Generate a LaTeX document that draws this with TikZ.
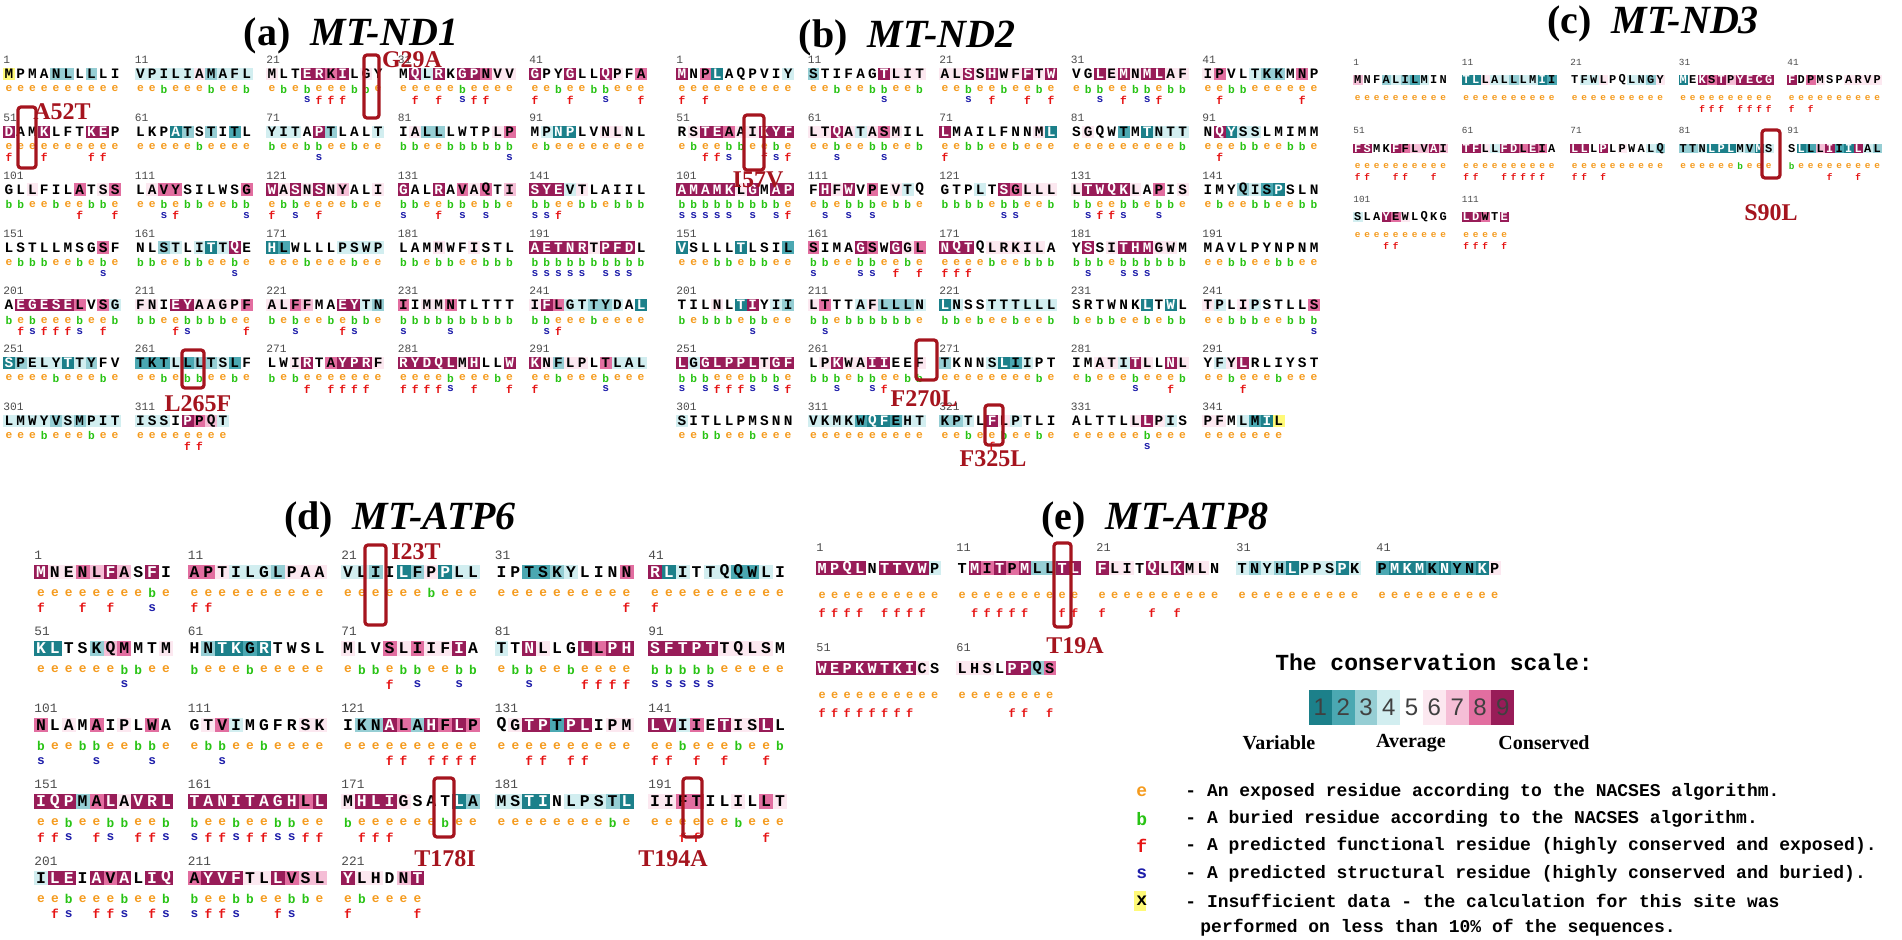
\documentclass[tikz,border=0pt]{standalone}
\usepackage{fontspec}
\setmainfont{Liberation Serif}
\setmonofont{Liberation Mono}
\setsansfont{Liberation Sans}
\definecolor{cs1}{RGB}{28,128,138}
\definecolor{cs2}{RGB}{75,168,178}
\definecolor{cs3}{RGB}{150,206,212}
\definecolor{cs4}{RGB}{210,238,240}
\definecolor{cs5}{RGB}{255,255,255}
\definecolor{cs6}{RGB}{252,232,240}
\definecolor{cs7}{RGB}{245,190,214}
\definecolor{cs8}{RGB}{226,110,160}
\definecolor{cs9}{RGB}{152,28,88}
\definecolor{csx}{RGB}{255,250,120}
\definecolor{mutred}{RGB}{165,20,30}
\definecolor{eorange}{RGB}{245,155,30}
\definecolor{bgreen}{RGB}{40,195,20}
\definecolor{sblue}{RGB}{30,30,170}
\definecolor{fred}{RGB}{230,20,20}
\newcount\rescnt
\def\splitfirst#1#2\nil{\def\first{#1}\def\rest{#2}}
% panel geometry: x0, y0, column step, row step, residue width, offsets, font size
\newcommand\setpanel[9]{\def\px{#1}\def\py{#2}\def\pdx{#3}\def\pdy{#4}\def\rw{#5}%
  \def\oseq{#6}\def\oeb{#7}\def\ofs{#8}\def\fsz{#9}\pgfmathsetmacro\ch{#5*1.05}%
  \pgfmathsetmacro\efz{#9*0.78}}
\def\resnext{\ifx\sq\empty\else\expandafter\resstep\fi}
\def\resstep{%
  \expandafter\splitfirst\sq\nil\let\rc\first\let\sq\rest
  \expandafter\splitfirst\cl\nil\let\cc\first\let\cl\rest
  \expandafter\splitfirst\eb\nil\let\ec\first\let\eb\rest
  \global\advance\rescnt1
  \pgfmathsetmacro\xx{\bx+(\kk+0.5)*\rw}%
  \edef\fcol{cs\cc}\def\tc{black}\if9\cc\def\tc{white}\fi\if1\cc\def\tc{white}\fi
  \fill[fill=\fcol] (\xx-\rw/2,\by+\oseq-\ch/2) rectangle (\xx+\rw/2,\by+\oseq+\ch/2);
  \node[res,text=\tc] (r\the\rescnt) at (\xx,\by+\oseq) {\rc};
  \if e\ec\def\ecol{eorange}\def\fch{f}\def\fcl{fred}\else\def\ecol{bgreen}\def\fch{s}\def\fcl{sblue}\fi
  \node[ebmark,text=\ecol] (m\the\rescnt) at (\xx,\by+\oeb) {\ec};
  \def\hc{0}\if9\cc\def\hc{1}\fi\if8\cc\def\hc{1}\fi
  \ifnum\hc=1 \node[ebmark,text=\fcl] (p\the\rescnt) at (\xx,\by+\ofs) {\fch};\fi
  \edef\kk{\the\numexpr\kk+1}\resnext}
% block of ten residues: column, row, first number, sequence, scores, e/b
\newcommand\blk[6]{%
  \pgfmathsetmacro\bx{\px+#1*\pdx}\pgfmathsetmacro\by{\py+#2*\pdy}%
  \node[numlbl] (n#3) at (\bx,\by) {#3};
  \def\sq{#4}\def\cl{#5}\def\eb{#6}\def\kk{0}\resnext}
\begin{document}
\begin{tikzpicture}[x=0.5pt,y=-0.5pt,
    res/.style={inner sep=0pt, font=\fontsize{\fsz}{\fsz}\selectfont\ttfamily\bfseries},
    ebmark/.style={inner sep=0pt, font=\fontsize{\efz}{\efz}\selectfont\ttfamily\bfseries},
    numlbl/.style={inner sep=0pt, anchor=west, text=black!70,
        font=\fontsize{\efz}{\efz}\selectfont\ttfamily},
    paneltitle/.style={font=\fontsize{20}{20}\selectfont\bfseries},
    mutbox/.style={draw=mutred, line width=1.6pt, rounded corners=1.5pt},
    mutlbl/.style={text=mutred, font=\fontsize{12}{12}\selectfont\bfseries},
    legtext/.style={anchor=west, inner sep=0pt,
        font=\fontsize{9}{9}\selectfont\ttfamily\bfseries}
]
\useasboundingbox (0,0) rectangle (1902,940);
\fill[white] (0,0) rectangle (1902,940);

% titles
\node[paneltitle] (ta) at (351,36) {(a)\ \ \textit{MT-ND1}};
\node[paneltitle] (tb) at (907,38) {(b)\ \ \textit{MT-ND2}};
\node[paneltitle] (tc) at (1653,24) {(c)\ \ \textit{MT-ND3}};
\node[paneltitle] (td) at (400,520) {(d)\ \ \textit{MT-ATP6}};
\node[paneltitle] (te) at (1155,520) {(e)\ \ \textit{MT-ATP8}};

% (a) MT-ND1
\setpanel{3}{60}{131.5}{57.8}{11.8}{14}{29}{40}{7.2}
\blk{0}{0}{1}{MPMANLLLLI}{x555335355}{eeeeeeeeee}
\blk{1}{0}{11}{VPILIAMAFL}{4444463444}{eebeeebeeb}
\blk{2}{0}{21}{MLTERKILGY}{6559989565}{ebebeeebbe}
\blk{3}{0}{31}{MQLRKGPNVV}{5949599866}{eeeeebeeee}
\blk{4}{0}{41}{GPYGLLQPFA}{9559559658}{eebeebbeee}
\blk{0}{1}{51}{DAMKLFTKEP}{9559555995}{eeeeeeeeee}
\blk{1}{1}{61}{LKPATSTITL}{5551353525}{eeeeebeeee}
\blk{2}{1}{71}{YITAPTLALT}{4445935554}{beebbeebee}
\blk{3}{1}{81}{IALLLWTPLP}{5633555568}{bbeebbbbbb}
\blk{4}{1}{91}{MPNPLVNLNL}{5411556655}{ebeeeeeeee}
\blk{0}{2}{101}{GLLFILATSS}{5565558568}{bbeebeebbe}
\blk{1}{2}{111}{LAVYSILWSG}{5688555558}{eebebbeebb}
\blk{2}{2}{121}{WASNSNYALI}{9696967556}{ebbeeeebee}
\blk{3}{2}{131}{GALRAVAQTI}{9559586857}{bbeebbebbe}
\blk{4}{2}{141}{SYEVTLAIIL}{9994655555}{bbeebbebbb}
\blk{0}{3}{151}{LSTLLMSGSF}{5555555585}{ebbbeebebe}
\blk{1}{3}{161}{NLSTLITTQE}{5534541495}{bbeebbeebe}
\blk{2}{3}{171}{HLWLLLPSWP}{1255554444}{eeebeeebee}
\blk{3}{3}{181}{LAMMWFISTL}{5556556555}{bbebbeebbb}
\blk{4}{3}{191}{AETNRTPFDL}{9999969995}{bbbbbbbbbb}
\blk{0}{4}{201}{AEGESELVSG}{5999998584}{bebeeebeeb}
\blk{1}{4}{211}{FNIEYAAGPF}{6659966668}{bbeebbbbee}
\blk{2}{4}{221}{ALFFMAEYTN}{6687559943}{bebeebebbe}
\blk{3}{4}{231}{IIMMNTLTTT}{8566855555}{bbbbbbbbbb}
\blk{4}{4}{241}{IFLGTTYDAL}{6984433451}{bbeeebeeee}
\blk{0}{5}{251}{SPELYTTYFV}{1344414355}{eeeebeeebe}
\blk{1}{5}{261}{TKTLLLTSLF}{2224233425}{eebebbeebe}
\blk{2}{5}{271}{LWIRTAYPRF}{5569589996}{bebeeeeeee}
\blk{3}{5}{281}{RYDQLMHLLW}{9999969559}{eeeebeeebe}
\blk{4}{5}{291}{KNFLPLTLAL}{9636658444}{eebeeebeee}
\blk{0}{6}{301}{LMWYVSMPIT}{4444343444}{eeebeeebee}
\blk{1}{6}{311}{ISSIPPQT}{44459874}{eeeeeeee}

% (b) MT-ND2
\setpanel{676}{60}{131.5}{57.8}{11.8}{14}{29}{40}{7.2}
\blk{0}{0}{1}{MNPLAQPVIY}{9581555554}{eeeeeeeeee}
\blk{1}{0}{11}{STIFAGTLIT}{3555559666}{eebeebbeeb}
\blk{2}{0}{21}{ALSSHWFFTW}{6696966969}{eebeebeebe}
\blk{3}{0}{31}{VGLEMNMLAF}{5596969966}{ebbeebbebb}
\blk{4}{0}{41}{IPVLTKKMNP}{6855433585}{eebbeeeeee}
\blk{0}{1}{51}{RSTEAAIKYF}{5699866999}{ebeebbeebe}
\blk{1}{1}{61}{LTQATASMIL}{6696468655}{eebeebbeeb}
\blk{2}{1}{71}{LMAILFNNML}{9555555561}{eebbeebeee}
\blk{3}{1}{81}{SGQWTMTNTT}{5655251444}{eeeeeeeeeb}
\blk{4}{1}{91}{NQYSSLMIMM}{5914455555}{eeebbeebbe}
\blk{0}{2}{101}{AMAMKLGMAP}{9999969599}{bbbbbbbbbe}
\blk{1}{2}{111}{FHFWVPEVTQ}{5969585645}{ebebbbebbe}
\blk{2}{2}{121}{GTPLTSGLLL}{5554598666}{bbbbebbeeb}
\blk{3}{2}{131}{LTWQKLAPIS}{6999965856}{bbeebbebbe}
\blk{4}{2}{141}{IMYQISPSLN}{5553421555}{ebeebbeebb}
\blk{0}{3}{151}{VSLLLTLSIL}{1555515552}{eeebbebbee}
\blk{1}{3}{161}{SIMAGSWGGL}{8555985968}{bbeebbeebe}
\blk{2}{3}{171}{NQTQLRKILA}{9995666665}{eeeebeebbb}
\blk{3}{3}{181}{YSSITHMGWM}{5956999665}{bbbebbbbbb}
\blk{4}{3}{191}{MAVLPYNPNM}{5555555555}{eebbeebbee}
\blk{0}{4}{201}{TILNLTIYII}{5556519543}{bebbbebbee}
\blk{1}{4}{211}{LTTTAFLLLN}{6855463334}{bbebbbbbbe}
\blk{2}{4}{221}{LNSSTTTLLL}{1455444444}{bbebeebeeb}
\blk{3}{4}{231}{SRTWNKLTWL}{5555551515}{bebbeebebb}
\blk{4}{4}{241}{TPLIPSTLLS}{6456455558}{eebbbeebbb}
\blk{0}{5}{251}{LGGLPPLTGF}{9499999699}{bbbeeebbbe}
\blk{1}{5}{261}{LPKWAIIEEF}{5696699556}{bbbebbeebb}
\blk{2}{5}{271}{TKNNSLIIPT}{3555412455}{eeeeeeeebe}
\blk{3}{5}{281}{IMATITLLNL}{5566496596}{ebeeebeeeb}
\blk{4}{5}{291}{YFYLRLIYST}{5469555555}{eebeeebeee}
\blk{0}{6}{301}{SITLLPMSNN}{4555555555}{eebbeebeee}
\blk{1}{6}{311}{VKMKWQFEHT}{4444211244}{eeeeeeeeee}
\blk{2}{6}{321}{KPTLFLPTLI}{3345964555}{eebeebeebe}
\blk{3}{6}{331}{ALTTLLLPIS}{5555569645}{eeeeeebeee}
\blk{4}{6}{341}{PFMLMIL}{665421x}{eeeeeee}

% (c) MT-ND3
\setpanel{1353}{62}{108.5}{68.5}{9.5}{18}{36}{47}{6.0}
\blk{0}{0}{1}{MNFALILMIN}{7553432455}{eeeeeeeeee}
\blk{1}{0}{11}{TLLALLLMII}{1164434412}{eeeeeeeeee}
\blk{2}{0}{21}{TFWLPQLNGY}{5446554436}{eeeeeeeeee}
\blk{3}{0}{31}{MEKSTPYECG}{1598979999}{eeeeeeeeee}
\blk{4}{0}{41}{FDPMSPARVP}{9586556666}{eeeeeeeeee}
\blk{0}{1}{51}{FSMKFFLVAI}{9955987797}{eeeeeeeeee}
\blk{1}{1}{61}{TFLLFDLEIA}{9964998985}{eeeeeeeeee}
\blk{2}{1}{71}{LLLPLPWALQ}{9959565543}{eeeeeeeeee}
\blk{3}{1}{81}{TTNLPLMVMS}{3341114314}{eeeeeebeee}
\blk{4}{1}{91}{SLLLIIILAL}{5127921943}{beeeeeeeee}
\blk{0}{2}{101}{SLAYEWLQKG}{4559865555}{eeeeeeeeee}
\blk{1}{2}{111}{LDWTE}{99859}{eeeee}

% (d) MT-ATP6
\setpanel{34}{555}{153.5}{76.5}{13.9}{17}{38}{53}{8.2}
\blk{0}{0}{1}{MNENLFASFI}{9668797595}{eeeeeeeebe}
\blk{1}{0}{11}{APTILGLPAA}{8864443666}{eeeeeeeeee}
\blk{2}{0}{21}{VLIILFPPLL}{4435136144}{eeeeeebeee}
\blk{3}{0}{31}{IPTSKYLINN}{5522345558}{eeeeeeeeee}
\blk{4}{0}{41}{RLITTQQWLI}{9145442245}{eeeeeeeeee}
\blk{0}{1}{51}{KLTSKQMMTM}{1155378556}{eeeeeebbee}
\blk{1}{1}{61}{HNTKGRTWSL}{5311215555}{beeebeeeee}
\blk{2}{1}{71}{MLVSLIIFIA}{6558686695}{ebbebbeebb}
\blk{3}{1}{81}{TTNLLGLLPH}{4596559899}{ebbeebeeee}
\blk{4}{1}{91}{SFTPTTQLSM}{9999966665}{bbbbbeeeee}
\blk{0}{2}{101}{NLAMAIPLWA}{8565856585}{beebbeebbe}
\blk{1}{2}{111}{GTVIMGFRSK}{5684555566}{ebbeebeeee}
\blk{2}{2}{121}{IKNALAHFLP}{5339839898}{eeeeeeeeee}
\blk{3}{2}{131}{QGTPTPLIPM}{5699299566}{eeeeeeeeee}
\blk{4}{2}{141}{LVIIETISLL}{9948596695}{eebeeebeeb}
\blk{0}{3}{151}{IQPMALAVRL}{9993896999}{eebeebbeeb}
\blk{1}{3}{161}{TANITAGHLL}{9999999989}{beebeebbee}
\blk{2}{3}{171}{MHLIGSATLA}{6999655513}{beeeeeebee}
\blk{3}{3}{181}{MSTINLPSTL}{4411544431}{eeeeeeeebe}
\blk{4}{3}{191}{IIFTILILLT}{6688556586}{eeeeeebeee}
\blk{0}{4}{201}{ILEIAVALIQ}{4995989599}{eebeeebeeb}
\blk{1}{4}{211}{AYVFTLLVSL}{8999669877}{beebbeebbe}
\blk{2}{4}{221}{YLHDNT}{966579}{ebeeee}

% (e) MT-ATP8
\setpanel{816}{548}{140}{100}{12.5}{20}{47}{65}{7.6}
\blk{0}{0}{1}{MPQLNTTVWP}{9999599994}{eeeeeeeeee}
\blk{1}{0}{11}{TMITPMLLTL}{5989893399}{eeeeeeeeee}
\blk{2}{0}{21}{FLITQLKMLN}{9665969665}{eeeeeeeeee}
\blk{3}{0}{31}{TNYHLPPSPK}{4343144414}{eeeeeeeeee}
\blk{4}{0}{41}{PMKMKNYNKP}{2111212216}{eeeeeeeeee}
\blk{0}{1}{51}{WEPKWTKICS}{9999999965}{eeeeeeeeee}
\blk{1}{1}{61}{LHSLPPQS}{66659938}{eeeeeeee}

% mutations
\draw[mutbox] (364,55) rectangle (379,118);
\node[mutlbl] (g29a) at (412,60) {G29A};
\draw[mutbox] (18,107) rectangle (36,168);
\node[mutlbl] (a52t) at (62,112) {A52T};
\draw[mutbox] (182,350) rectangle (204,388);
\node[mutlbl] (l265f) at (198,404) {L265F};
\draw[mutbox] (744,115) rectangle (764,170);
\node[mutlbl] (i57v) at (758,180) {I57V};
\draw[mutbox] (916,340) rectangle (937,380);
\node[mutlbl] (f270l) at (924,399) {F270L};
\draw[mutbox] (985,405) rectangle (1003,445);
\node[mutlbl] (f325l) at (993,459) {F325L};
\draw[mutbox] (1762,130) rectangle (1780,178);
\node[mutlbl] (s90l) at (1771,213) {S90L};
\draw[mutbox] (365,545) rectangle (386,625);
\node[mutlbl] (i23t) at (416,552) {I23T};
\draw[mutbox] (434,778) rectangle (454,837);
\node[mutlbl] (t178i) at (445,859) {T178I};
\draw[mutbox] (683,778) rectangle (702,837);
\node[mutlbl] (t194a) at (673,859) {T194A};
\draw[mutbox] (1054,543) rectangle (1071,627);
\node[mutlbl] (t19a) at (1075,646) {T19A};

% conservation scale
\node[font=\fontsize{11.5}{11.5}\selectfont\ttfamily\bfseries] (scaletitle) at (1434,662) {The conservation scale:};
\foreach \i in {1,...,9}{
  \fill[cs\i] (1309+22.8*\i-22.8,690) rectangle (1309+22.8*\i,725);
  \node[font=\fontsize{12}{12}\selectfont\sffamily, text=black!75] (sc\i) at (1309+22.8*\i-11.4,707.5) {\i};
}
\node[font=\fontsize{10}{10}\selectfont\bfseries] (variable) at (1279,743) {Variable};
\node[font=\fontsize{10}{10}\selectfont\bfseries] (average) at (1411,743) {Average};
\node[font=\fontsize{10}{10}\selectfont\bfseries] (conserved) at (1544,743) {Conserved};

% legend
\node[legtext, text=eorange] (le) at (1136,792) {e};
\node[legtext] (lte) at (1185,792) {- An exposed residue according to the NACSES algorithm.};
\node[legtext, text=bgreen] (lb) at (1136,819) {b};
\node[legtext] (ltb) at (1185,819) {- A buried residue according to the NACSES algorithm.};
\node[legtext, text=fred] (lf) at (1136,846) {f};
\node[legtext] (ltf) at (1185,846) {- A predicted functional residue (highly conserved and exposed).};
\node[legtext, text=sblue] (ls) at (1136,874) {s};
\node[legtext] (lts) at (1185,874) {- A predicted structural residue (highly conserved and buried).};
\fill[csx] (1134,891) rectangle (1146,911);
\node[legtext] (lx) at (1136,901) {x};
\node[legtext] (ltx) at (1185,901) {- Insufficient data - the calculation for this site was};
\node[legtext] (ltx2) at (1200,928) {performed on less than 10\% of the sequences.};
\end{tikzpicture}
\end{document}
